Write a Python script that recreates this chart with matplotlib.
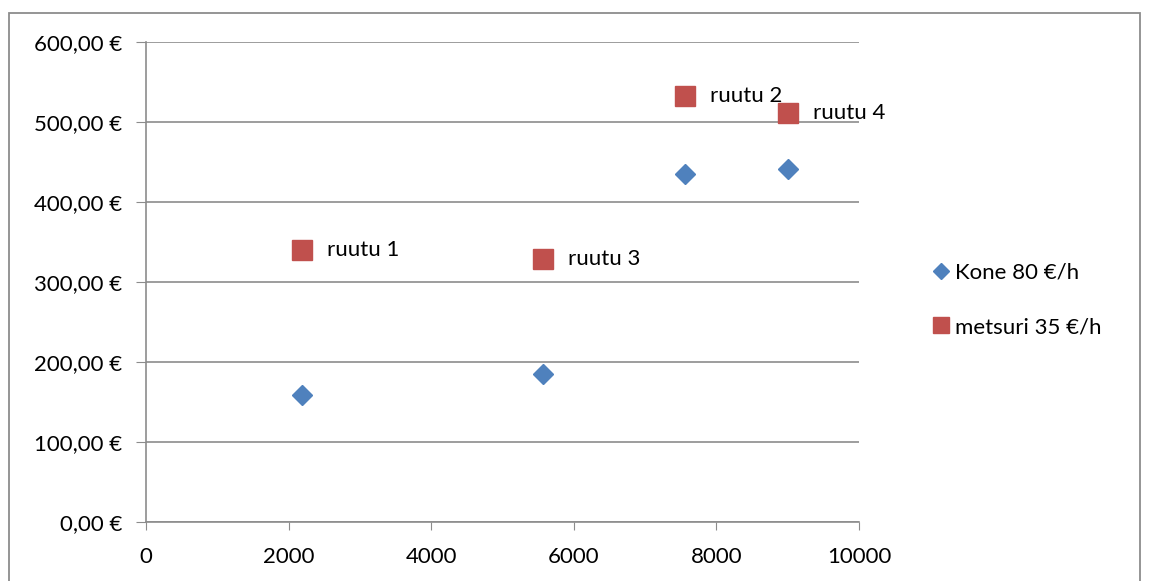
import matplotlib.pyplot as plt
from matplotlib.patches import Rectangle
from matplotlib.ticker import FuncFormatter

plt.rcParams['font.family'] = ['Lato', 'DejaVu Sans']

# data
area = [2190, 5570, 7560, 9000]
kone_cost = [159, 185, 435, 441]
metsuri_cost = [340, 329, 533, 511]
plot_labels = ["ruutu 1", "ruutu 3", "ruutu 2", "ruutu 4"]

BLUE = "#4F81BD"
RED = "#C0504D"
GRID = "#8C8C8C"

fig = plt.figure(figsize=(11.49, 5.81), dpi=100)
ax = fig.add_axes([0.127, 0.1015, 0.6206, 0.8262])

ax.plot(area, kone_cost, linestyle="none", marker="D", markersize=10,
        color=BLUE, label="Kone 80 €/h")
ax.plot(area, metsuri_cost, linestyle="none", marker="s", markersize=14,
        color=RED, label="metsuri 35 €/h")

for x, y, txt in zip(area, metsuri_cost, plot_labels):
    ax.annotate(txt, (x, y), xytext=(18, 0), textcoords="offset points",
                va="center", ha="left", fontsize=16)

ax.set_xlim(0, 10000)
ax.set_ylim(0, 600)
ax.set_xticks(range(0, 10001, 2000))
ax.set_yticks(range(0, 601, 100))
ax.yaxis.set_major_formatter(FuncFormatter(lambda v, _: f"{v:.2f}".replace(".", ",") + " €"))

ax.grid(axis="y", color=GRID, linewidth=1.2)
ax.set_axisbelow(True)
for side in ["top", "right"]:
    ax.spines[side].set_visible(False)
for side in ["left", "bottom"]:
    ax.spines[side].set_color(GRID)
    ax.spines[side].set_linewidth(1.2)
ax.tick_params(axis="y", direction="out", length=7, color=GRID, labelsize=16, pad=10)
ax.tick_params(axis="x", direction="out", length=6, color=GRID, labelsize=16, pad=12)

leg = ax.legend(loc="center left", bbox_to_anchor=(1.089, 0.4625), frameon=False,
                fontsize=16, handlelength=0.7, handletextpad=0.25, labelspacing=1.55,
                borderpad=0, markerscale=0.85)

# outer chart frame
fig.patches.append(Rectangle((9 / 1149, -0.05), 1131 / 1149, 1.05 - 13 / 581,
                             transform=fig.transFigure, fill=False,
                             edgecolor=GRID, linewidth=1.3))

fig.savefig("out.png", dpi=100)
